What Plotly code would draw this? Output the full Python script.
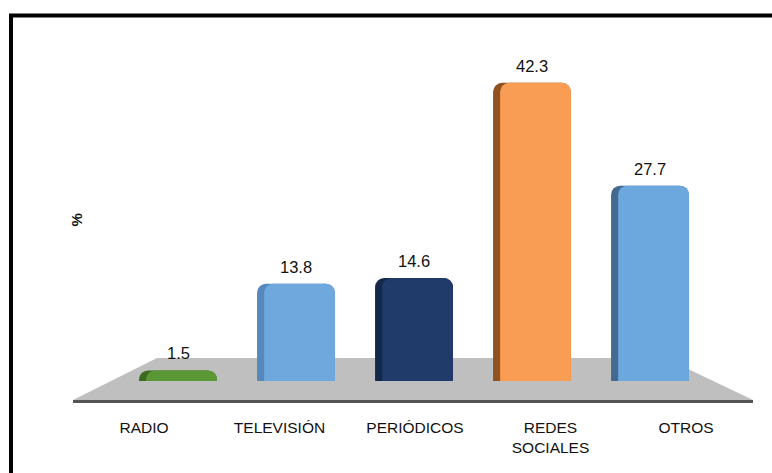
import plotly.graph_objects as go

# Media categories and share of respondents (%)
categories = ["RADIO", "TELEVISIÓN", "PERIÓDICOS", "REDES<br>SOCIALES", "OTROS"]
values = [1.5, 13.8, 14.6, 42.3, 27.7]
value_labels = ["1.5", "13.8", "14.6", "42.3", "27.7"]
bar_colors = ["#5a9836", "#6fa8dc", "#203a6a", "#f89d53", "#6ca8de"]
side_colors = ["#3b6a20", "#5588bd", "#142849", "#8f5220", "#456a90"]

W, H = 772, 473
FONT = "Liberation Sans, Arial, sans-serif"
BAR_W = 0.66
SIDE_W = 0.06


def px(x):
    """Pixel column -> paper x."""
    return x / W


def py(y):
    """Pixel row (from top) -> paper y."""
    return (H - y) / H


idx = list(range(len(categories)))

fig = go.Figure()

# Darker full-width body: shows as a bevelled left side
fig.add_trace(go.Bar(
    x=idx, y=values, width=BAR_W,
    marker=dict(color=side_colors, cornerradius=9, line=dict(width=0)),
    xaxis="x", yaxis="y", hoverinfo="skip", showlegend=False,
))
# Front face of each bar
fig.add_trace(go.Bar(
    x=idx, y=values, width=BAR_W - SIDE_W, offset=-BAR_W / 2 + SIDE_W,
    marker=dict(color=bar_colors, cornerradius=9, line=dict(width=0)),
    xaxis="x", yaxis="y", hoverinfo="skip", showlegend=False,
))

# Invisible carrier trace for the category label axis
fig.add_trace(go.Scatter(
    x=idx, y=[0] * len(idx), mode="markers",
    marker=dict(opacity=0), xaxis="x2", yaxis="y",
    hoverinfo="skip", showlegend=False,
))

# Value labels above each bar
annotations = [
    dict(x=i, y=v, xref="x", yref="y", text=t, showarrow=False,
         yanchor="middle", yshift=17,
         font=dict(family=FONT, size=16.5, color="#111111"))
    for i, v, t in zip(idx, values, value_labels)
]
annotations.append(dict(
    x=px(65), y=py(220), xref="paper", yref="paper", text="<b>%</b>",
    showarrow=False, textangle=-90,
    font=dict(family=FONT, size=15, color="#111111"),
))

shapes = [
    # grey perspective floor
    dict(type="path", xref="paper", yref="paper", layer="below",
         path=(f"M {px(157)},{py(358)} L {px(665)},{py(358)} "
               f"L {px(753)},{py(400)} L {px(73)},{py(400)} Z"),
         fillcolor="#bfbfbf", line=dict(width=0)),
    # darker front edge of the floor
    dict(type="line", xref="paper", yref="paper", layer="below",
         x0=px(73), y0=py(401.5), x1=px(753), y1=py(401.5),
         line=dict(color="#555555", width=3)),
    # outer frame
    dict(type="rect", xref="paper", yref="paper", layer="above",
         x0=px(11), y0=py(490), x1=px(790), y1=py(15.5),
         line=dict(color="#000000", width=4)),
]

fig.update_layout(
    width=W, height=H, autosize=False,
    margin=dict(l=0, r=0, t=0, b=0),
    paper_bgcolor="#ffffff", plot_bgcolor="rgba(0,0,0,0)",
    barmode="overlay",
    xaxis=dict(domain=[0, 1], range=[-178 / 118, (W - 178) / 118],
               visible=False, fixedrange=True),
    xaxis2=dict(overlaying="x", anchor="free", position=py(416),
                range=[-144 / 135.5, (W - 144) / 135.5],
                tickmode="array", tickvals=idx, ticktext=categories,
                ticks="", showline=False, showgrid=False, zeroline=False,
                tickfont=dict(family=FONT, size=15.5, color="#111111"),
                fixedrange=True),
    yaxis=dict(domain=[py(381), py(28.5)], range=[0, 50],
               visible=False, fixedrange=True),
    annotations=annotations,
    shapes=shapes,
)

fig.write_html("out.html")
